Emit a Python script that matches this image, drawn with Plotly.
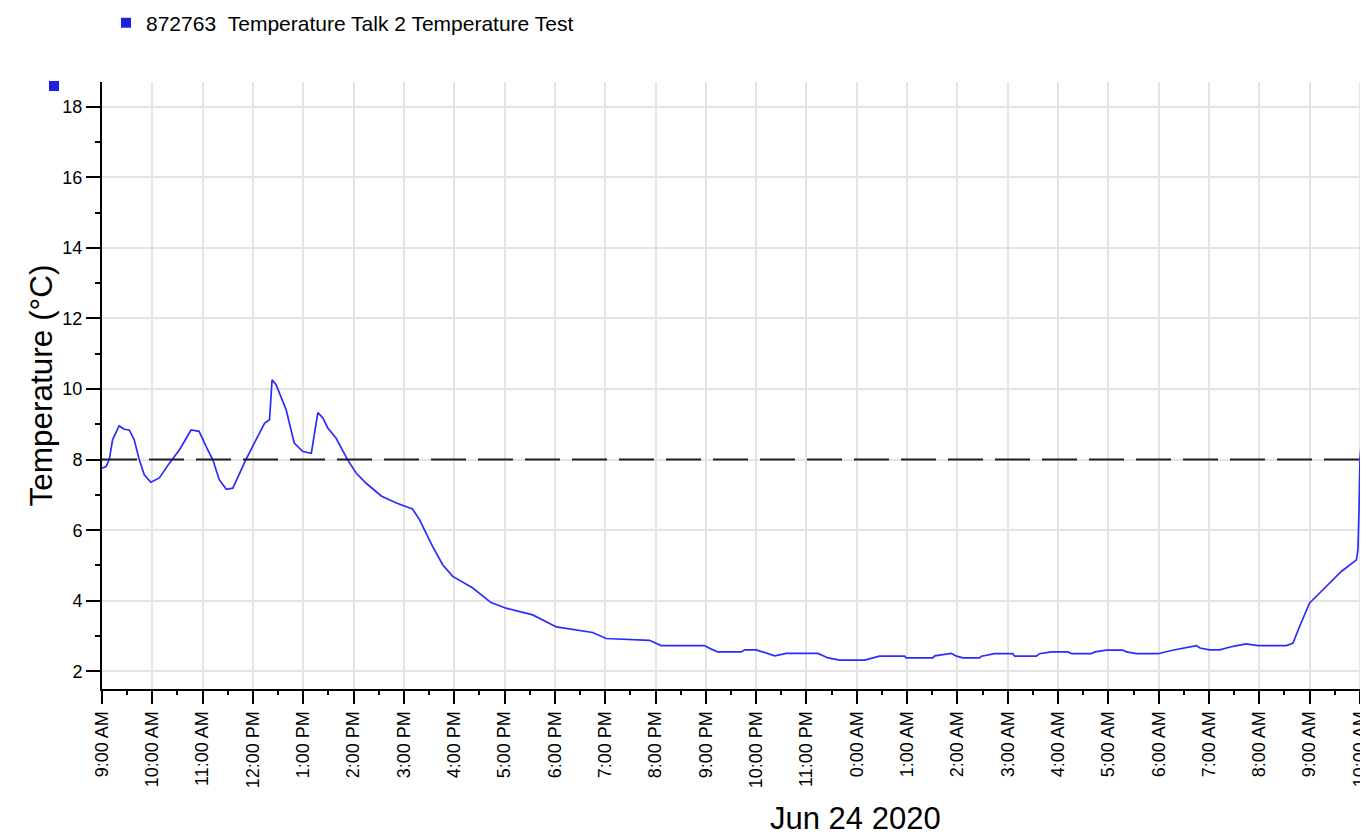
import pandas as pd
import plotly.graph_objects as go

# ---------------- data ----------------
start_time = "2020-06-24 09:00"
hours = [
    0.00, 0.08, 0.145, 0.21, 0.34, 0.44, 0.54, 0.64, 0.74, 0.84, 0.97, 1.14, 1.34, 1.54,
    1.77, 1.93, 2.07, 2.20, 2.33, 2.47, 2.60, 2.70, 2.86, 3.06, 3.23, 3.33, 3.38, 3.46,
    3.66, 3.82, 3.99, 4.16, 4.20, 4.29, 4.39, 4.49, 4.65, 4.88, 5.05, 5.25, 5.55, 5.85,
    6.17, 6.31, 6.44, 6.57, 6.77, 6.97, 7.37, 7.73, 8.03, 8.56, 9.03, 9.55, 9.75, 10.02,
    10.88, 11.11, 11.97, 12.11, 12.24, 12.70, 12.77, 13.00, 13.20, 13.37, 13.60, 14.23,
    14.43, 14.66, 15.16, 15.45, 15.95, 15.98, 16.51, 16.55, 16.88, 16.98, 17.11, 17.44,
    17.48, 17.74, 18.10, 18.14, 18.57, 18.63, 18.87, 19.20, 19.27, 19.66, 19.73, 19.96,
    20.29, 20.36, 20.56, 20.99, 21.25, 21.48, 21.75, 21.82, 22.01, 22.21, 22.48, 22.74,
    22.97, 23.54, 23.67, 23.80, 24.00, 24.20, 24.63, 24.93, 24.96, 24.98, 25.00, 25.02,
    25.05, 25.08, 25.10, 25.12, 25.13, 25.15, 25.20,
]
temperature = [
    7.76, 7.80, 8.00, 8.56, 8.96, 8.86, 8.84, 8.56, 8.00, 7.57, 7.36, 7.48, 7.90, 8.28,
    8.84, 8.80, 8.37, 8.00, 7.43, 7.16, 7.19, 7.52, 8.00, 8.56, 9.03, 9.13, 10.26, 10.12,
    9.41, 8.47, 8.23, 8.18, 8.56, 9.33, 9.18, 8.89, 8.61, 8.00, 7.62, 7.33, 6.97, 6.77,
    6.60, 6.30, 5.92, 5.54, 5.02, 4.69, 4.36, 3.95, 3.79, 3.60, 3.26, 3.15, 3.10, 2.93,
    2.88, 2.73, 2.73, 2.63, 2.55, 2.55, 2.61, 2.61, 2.52, 2.44, 2.51, 2.51,
    2.38, 2.32, 2.32, 2.43, 2.43, 2.38, 2.38, 2.44, 2.51, 2.43, 2.38, 2.38,
    2.43, 2.50, 2.50, 2.43, 2.43, 2.50, 2.55, 2.55, 2.50, 2.50, 2.55, 2.60,
    2.60, 2.55, 2.50, 2.50, 2.59, 2.66, 2.73, 2.66, 2.61, 2.61, 2.71, 2.78,
    2.73, 2.73, 2.80, 3.27, 3.94, 4.22, 4.83, 5.16, 5.45, 6.49, 8.00, 8.37,
    9.13, 9.98, 11.58, 12.90, 14.32, 15.60, 17.20,
]
threshold = 8
tick_labels = [
    "9:00 AM", "10:00 AM", "11:00 AM", "12:00 PM", "1:00 PM", "2:00 PM", "3:00 PM",
    "4:00 PM", "5:00 PM", "6:00 PM", "7:00 PM", "8:00 PM", "9:00 PM", "10:00 PM",
    "11:00 PM", "0:00 AM", "1:00 AM", "2:00 AM", "3:00 AM", "4:00 AM", "5:00 AM",
    "6:00 AM", "7:00 AM", "8:00 AM", "9:00 AM", "10:00 AM",
]
series_name = "872763\u00a0\u00a0Temperature Talk 2 Temperature Test"
date_label = "Jun 24 2020"
y_title = "Temperature (°C)"

# ---------------- build ----------------
t0 = pd.Timestamp(start_time)
times = [t0 + pd.Timedelta(hours=h) for h in hours]
tick_vals = [t0 + pd.Timedelta(hours=i) for i in range(len(tick_labels))]
minor_vals = [t0 + pd.Timedelta(hours=i + 0.5) for i in range(len(tick_labels))]
x_end = t0 + pd.Timedelta(hours=25.16)

FONT = "Liberation Sans, Arial, sans-serif"
LINE_BLUE = "#2b2bff"
SQ_BLUE = "#1f1fe0"
GRID = "#e4e4e4"

# page body has an 8px default margin: figure is 1360x832 placed at (8, 8)
PLOT_W = 1266
PLOT_H = 607

fig = go.Figure()
fig.add_trace(go.Scatter(
    x=times, y=temperature, mode="lines",
    line=dict(color=LINE_BLUE, width=1.7),
    showlegend=False, name=series_name,
))
fig.add_trace(go.Scatter(
    x=[None], y=[None], mode="markers",
    marker=dict(symbol="square", size=10, color=SQ_BLUE),
    name=series_name, showlegend=True,
))

fig.add_shape(type="line", xref="paper", x0=0, x1=1, yref="y",
              y0=threshold, y1=threshold,
              line=dict(color="#1e1e1e", width=2, dash="35px,12px"), layer="above")

# small series marker at the top-left of the value axis
fig.add_shape(type="rect", xref="paper", yref="paper",
              xsizemode="pixel", ysizemode="pixel", xanchor=0, yanchor=1,
              x0=-53, x1=-43, y0=-9, y1=1,
              fillcolor=SQ_BLUE, line=dict(width=0))

fig.add_annotation(text=date_label, xref="paper", yref="paper",
                   x=(855 - 102) / PLOT_W, y=(689 - 818) / PLOT_H,
                   xanchor="center", yanchor="middle", showarrow=False,
                   font=dict(family=FONT, size=31, color="#000000"))

fig.update_layout(
    width=1360, height=832,
    margin=dict(l=94, r=0, t=74, b=151, pad=0, autoexpand=False),
    paper_bgcolor="white", plot_bgcolor="white",
    font=dict(family=FONT, color="#000000"),
    legend=dict(
        x=(106 - 102) / PLOT_W, xanchor="left",
        y=(689 - 23) / PLOT_H, yanchor="middle",
        font=dict(family=FONT, size=21, color="#000000"),
        bgcolor="rgba(0,0,0,0)", borderwidth=0,
    ),
    xaxis=dict(
        type="date",
        range=[t0, x_end],
        automargin=False,
        tickmode="array", tickvals=tick_vals, ticktext=tick_labels,
        tickangle=-90,
        ticklabeloverflow="allow",
        tickfont=dict(family=FONT, size=18, color="#000000"),
        ticks="outside", ticklen=13, tickwidth=2, tickcolor="#000000",
        showline=True, linecolor="#000000", linewidth=2,
        showgrid=True, gridcolor=GRID, gridwidth=2,
        zeroline=False,
        minor=dict(tickmode="array", tickvals=minor_vals, ticks="outside",
                   ticklen=4, tickwidth=2, tickcolor="#000000", showgrid=False),
    ),
    yaxis=dict(
        range=[1.5, 18.7],
        automargin=False,
        tickmode="linear", tick0=2, dtick=2,
        tickfont=dict(family=FONT, size=18, color="#000000"),
        ticks="outside", ticklen=14, tickwidth=2, tickcolor="#000000",
        showline=True, linecolor="#000000", linewidth=2,
        showgrid=True, gridcolor=GRID, gridwidth=2,
        zeroline=False,
        title=dict(text=y_title, font=dict(family=FONT, size=31.5, color="#000000"),
                   standoff=0),
        minor=dict(tick0=1, dtick=1, ticks="outside", ticklen=5, tickwidth=2,
                   tickcolor="#000000", showgrid=False),
    ),
)

fig.write_html("out.html")
